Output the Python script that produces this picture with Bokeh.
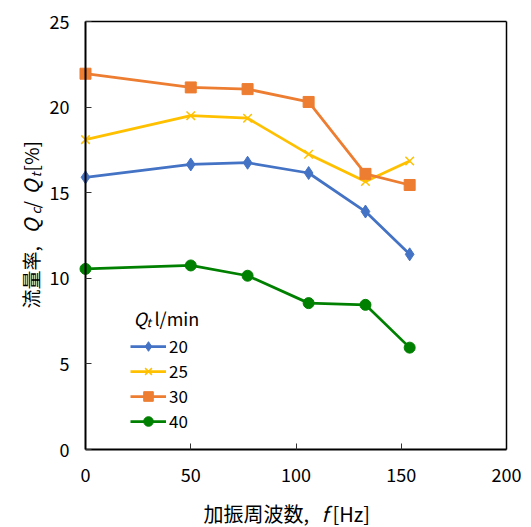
import math
from bokeh.plotting import figure
from bokeh.models import Label, Legend, LegendItem, Range1d, FixedTicker, LinearAxis
from bokeh.embed import file_html
from bokeh.resources import INLINE

freq = [0, 50, 77, 106, 133, 154]
q20 = [15.9, 16.65, 16.75, 16.15, 13.9, 11.4]
q25 = [18.1, 19.5, 19.35, 17.25, 15.65, 16.85]
q30 = [21.95, 21.15, 21.05, 20.3, 16.1, 15.45]
q40 = [10.55, 10.75, 10.15, 8.55, 8.45, 5.95]
series_names = ["20", "25", "30", "40"]
x_ticks = [0, 50, 100, 150, 200]
y_ticks = [0, 5, 10, 15, 20, 25]
X0, X1 = 0, 200
Y0, Y1 = 0, 25

FONT = "Noto Sans CJK JP"
W, H = 531, 527
# plot box in canvas pixels
L, R, T, B = 85, 506, 21, 449
sxu = (X1 - X0) / (R - L)
syu = (Y1 - Y0) / (B - T)
xr = Range1d(X0 - L * sxu, X1 + (W - R) * sxu)
yr = Range1d(Y0 - (H - B) * syu, Y1 + T * syu)

p = figure(width=W, height=H, output_backend="svg", toolbar_location=None,
           x_range=xr, y_range=yr, x_axis_location=None, y_axis_location=None,
           min_border=0)
p.background_fill_color = "white"
p.border_fill_color = "white"
p.outline_line_color = None
p.xgrid.visible = False
p.ygrid.visible = False

def make_axis(loc, ticks, bounds, width=2):
    ax = LinearAxis(fixed_location=loc, bounds=bounds)
    ax.ticker = FixedTicker(ticks=ticks)
    ax.minor_tick_line_color = None
    ax.major_tick_in = 6
    ax.major_tick_out = 0
    ax.major_tick_line_color = "#333333"
    ax.axis_line_color = "black"
    ax.axis_line_width = width
    ax.major_label_text_font = FONT
    ax.major_label_text_font_size = "18px"
    ax.major_label_text_color = "black"
    return ax

xa = make_axis(Y0, x_ticks, (X0, X1))
xa.major_label_standoff = 18
ya = make_axis(X0, y_ticks, (Y0, Y1))
ya.major_label_standoff = 16
p.add_layout(xa, "below")
p.add_layout(ya, "left")
# top and right frame edges: plain axis lines without ticks
p.add_layout(make_axis(Y1, [], (X0, X1), width=1.5), "above")
p.add_layout(make_axis(X1, [], (Y0, Y1), width=1.5), "right")

colors = ["#4472C4", "#FFC000", "#ED7D31", "#008000"]
markers = ["diamond", "x", "square", "circle"]
sizes = [13, 12, 11, 11]
items = []
for name, ys, c, m, s in zip(series_names, [q20, q25, q30, q40], colors, markers, sizes):
    r1 = p.line(freq, ys, line_color=c, line_width=2.75)
    if m == "x":
        r2 = p.scatter(freq, ys, marker=m, size=s, line_color=c, line_width=1.5)
    else:
        r2 = p.scatter(freq, ys, marker=m, size=s, fill_color=c, line_color=c)
    items.append(LegendItem(label=name, renderers=[r1, r2]))

legend = Legend(items=items, location=(130, H - 433), background_fill_alpha=0,
                border_line_color=None, padding=2, margin=0, spacing=0,
                glyph_width=36, glyph_height=24, label_height=24,
                label_standoff=3, label_text_font=FONT, label_text_font_size="17px",
                label_text_color="black")
p.add_layout(legend)

def lab(text, px, py, size="19px", style="normal", angle=0, align="left", baseline="middle"):
    p.add_layout(Label(x=px, y=H - py, x_units="screen", y_units="screen", text=text,
                       text_font=FONT, text_font_size=size,
                       text_font_style=style, text_color="black", angle=angle,
                       text_align=align, text_baseline=baseline))

# x axis label
lab("加振周波数,", 203, 513, size="20px")
lab("f", 321, 513, size="20px", style="italic")
lab("[Hz]", 332, 513, size="20px")

# y axis label (rotated)
a = math.pi / 2
lab("流量率,", 30, 308, angle=a)
lab("Q", 30, 233, size="20px", angle=a, style="italic")
lab("c", 35, 214, size="13px", angle=a, style="italic")
lab("/", 30, 208, angle=a)
lab("Q", 30, 194, size="20px", angle=a, style="italic")
lab("t", 35, 177, size="13px", angle=a, style="italic")
lab("[%]", 30, 171, angle=a)

# legend title
lab("Q", 133, 317, size="18px", style="italic")
lab("t", 146, 321, size="12px", style="italic")
lab("l/min", 154, 317, size="18px")

open("out.html", "w").write(file_html(p, INLINE))
